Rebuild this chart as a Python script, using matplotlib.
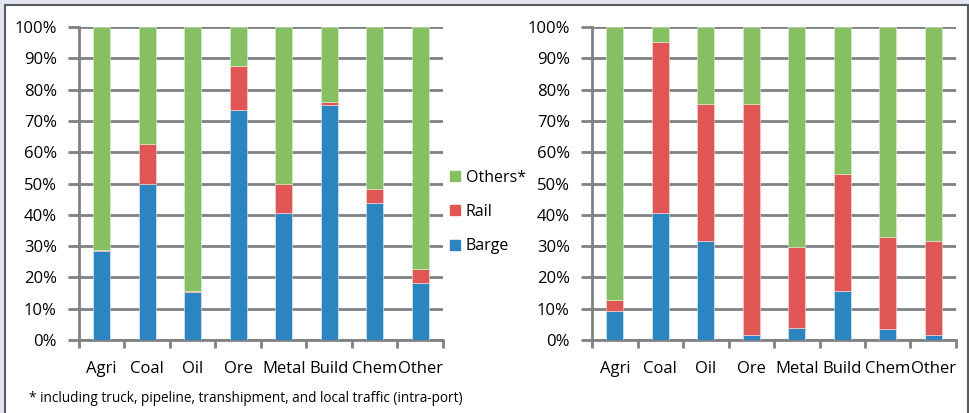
import numpy as np
import matplotlib
matplotlib.use('Agg')
import matplotlib.pyplot as plt
from matplotlib.patches import Rectangle, Patch

plt.rcParams['font.family'] = ['Open Sans', 'DejaVu Sans']

categorias = ['Agri', 'Coal', 'Oil', 'Ore', 'Metal', 'Build', 'Chem', 'Other']

# left panel (%)
barge_izq = [28.4, 49.7, 15.4, 73.6, 40.6, 75.0, 43.8, 18.3]
rail_izq = [0.5, 13.0, 0.3, 14.0, 9.1, 0.9, 4.4, 4.3]

# right panel (%)
barge_der = [9.4, 40.5, 31.5, 1.6, 3.9, 15.6, 3.4, 1.6]
rail_der = [3.5, 54.8, 43.9, 73.8, 25.8, 37.5, 29.5, 29.9]

etiquetas_leyenda = ['Others*', 'Rail', 'Barge']
nota = '* including truck, pipeline, transhipment, and local traffic (intra-port)'

c_barge = '#2c84c1'
c_rail = '#df5654'
c_otros = '#86c062'
c_gris = '#808184'

fig = plt.figure(figsize=(9.7, 4.13), dpi=100)
fig.patch.set_facecolor('#e2e5f2')
fig.patches.append(Rectangle((5 / 970, -0.05), 963 / 970, 1.05 - 5 / 413,
                             transform=fig.transFigure, facecolor='white',
                             edgecolor='#5a5b5e', linewidth=1.5, zorder=-10))


def panel(ax, barge, rail):
    barge = np.array(barge)
    rail = np.array(rail)
    otros = 100 - barge - rail
    x = np.arange(len(categorias))
    w = 0.37
    ax.bar(x, barge, w, color=c_barge, edgecolor='#e8eef5', linewidth=0.4, zorder=3)
    ax.bar(x, rail, w, bottom=barge, color=c_rail, edgecolor='#f2dede', linewidth=0.4, zorder=3)
    ax.bar(x, otros, w, bottom=barge + rail, color=c_otros, edgecolor='#e4f0dc', linewidth=0.4, zorder=3)
    ax.set_xlim(-0.5, len(categorias) - 0.5)
    ax.set_ylim(0, 100)
    ax.set_yticks(np.arange(0, 101, 10))
    ax.set_yticklabels([f'{v}%' for v in range(0, 101, 10)])
    ax.set_xticks(x)
    ax.set_xticklabels(categorias)
    ax.set_xticks(np.arange(-0.5, len(categorias)), minor=True)
    ax.tick_params(axis='x', which='major', length=0, pad=15, labelsize=12)
    ax.tick_params(axis='x', which='minor', length=6, width=2, color=c_gris, direction='out')
    ax.tick_params(axis='y', length=8, width=2, color=c_gris, pad=8, labelsize=12)
    ax.grid(axis='y', color=c_gris, linewidth=2, zorder=1)
    ax.set_axisbelow(True)
    for s in ['top', 'right']:
        ax.spines[s].set_visible(False)
    for s in ['left', 'bottom']:
        ax.spines[s].set_color(c_gris)
        ax.spines[s].set_linewidth(2)
    ax.set_facecolor('none')


ax1 = fig.add_axes([79 / 970, 1 - 340 / 413, 364 / 970, 313 / 413])
ax2 = fig.add_axes([592 / 970, 1 - 340 / 413, 364 / 970, 313 / 413])
panel(ax1, barge_izq, rail_izq)
panel(ax2, barge_der, rail_der)

handles = [Patch(color=c_otros), Patch(color=c_rail), Patch(color=c_barge)]
fig.legend(handles, etiquetas_leyenda, loc='center left',
           bbox_to_anchor=(436 / 970, 1 - 212 / 413), frameon=False,
           fontsize=11.5, handlelength=0.6, handleheight=0.6,
           handletextpad=0.35, labelspacing=1.15)

fig.text(29 / 970, 1 - 398 / 413, nota, fontsize=9.8, va='center', ha='left')

fig.savefig('out.png', dpi=100, facecolor=fig.get_facecolor())
